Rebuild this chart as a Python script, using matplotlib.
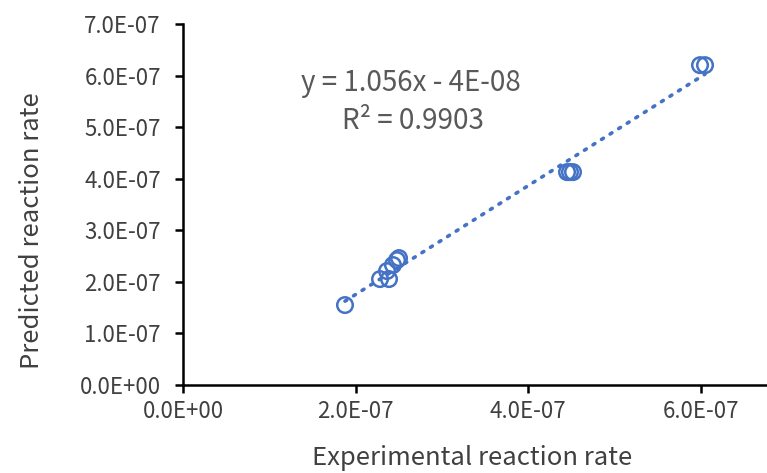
import matplotlib
matplotlib.use("Agg")
import matplotlib.pyplot as plt
import numpy as np
from matplotlib.ticker import FuncFormatter

plt.rcParams['font.family'] = ['Noto Sans CJK SC', 'DejaVu Sans']
plt.rcParams['font.weight'] = 'light'

experimental = [1.877e-7, 2.283e-7, 2.387e-7, 2.364e-7, 2.433e-7, 2.480e-7, 2.503e-7,
                4.450e-7, 4.484e-7, 4.519e-7, 5.991e-7, 6.049e-7]
predicted = [1.550e-7, 2.054e-7, 2.054e-7, 2.209e-7, 2.326e-7, 2.422e-7, 2.461e-7,
             4.128e-7, 4.128e-7, 4.128e-7, 6.202e-7, 6.202e-7]
x_ticks = [0, 2e-7, 4e-7, 6e-7]
y_ticks = [0, 1e-7, 2e-7, 3e-7, 4e-7, 5e-7, 6e-7, 7e-7]
eq_text = "y = 1.056x - 4E-08"
r2_text = "R² = 0.9903"

color = '#4472C4'
W, H = 767, 473
x0, y0, ytop = 183, 385, 24
fig = plt.figure(figsize=(W/100, H/100), dpi=100)
ax = fig.add_axes([x0/W, 1-y0/H, 1-x0/W, (y0-ytop)/H])

ax.scatter(experimental, predicted, s=125, facecolors='none', edgecolors=color, linewidths=1.8, zorder=3)

xs = np.array(experimental)
coef = np.polyfit(xs, np.array(predicted), 1)
xl = np.array([xs.min(), xs.max()])
ax.plot(xl, np.polyval(coef, xl), linestyle=(0, (0.6, 2.2)), color=color, linewidth=2.6,
        dash_capstyle='round', zorder=2)

ax.set_xlim(0, (W-x0)/86.3*1e-7)
ax.set_ylim(0, 7e-7)
ax.set_xticks(x_ticks)
ax.set_yticks(y_ticks)

def fmt(v, pos):
    if v == 0:
        return "0.0E+00"
    e = int(np.floor(np.log10(abs(v)) + 1e-9))
    m = v / 10**e
    return f"{m:.1f}E-{-e:02d}"

ax.xaxis.set_major_formatter(FuncFormatter(fmt))
ax.yaxis.set_major_formatter(FuncFormatter(fmt))
for s in ['top', 'right']:
    ax.spines[s].set_visible(False)
for s in ['left', 'bottom']:
    ax.spines[s].set_linewidth(1.8)
    ax.spines[s].set_color('black')
ax.tick_params(axis='both', direction='out', length=6, width=1.8, labelsize=16,
               labelcolor='#404040')
ax.tick_params(axis='y', pad=10)
ax.tick_params(axis='x', pad=5)

fig.text(32/W, 1-231/H, "Predicted reaction rate", rotation=90, ha='center', va='center',
         fontsize=18.5, color='#404040')
fig.text(472/W, 1-458/H, "Experimental reaction rate", ha='center', va='center',
         fontsize=18.5, color='#404040')
fig.text(411/W, 1-83/H, eq_text, ha='center', va='center', fontsize=20, color='#595959')
fig.text(413/W, 1-121/H, r2_text, ha='center', va='center', fontsize=20, color='#595959')

fig.savefig("out.png", dpi=100)
